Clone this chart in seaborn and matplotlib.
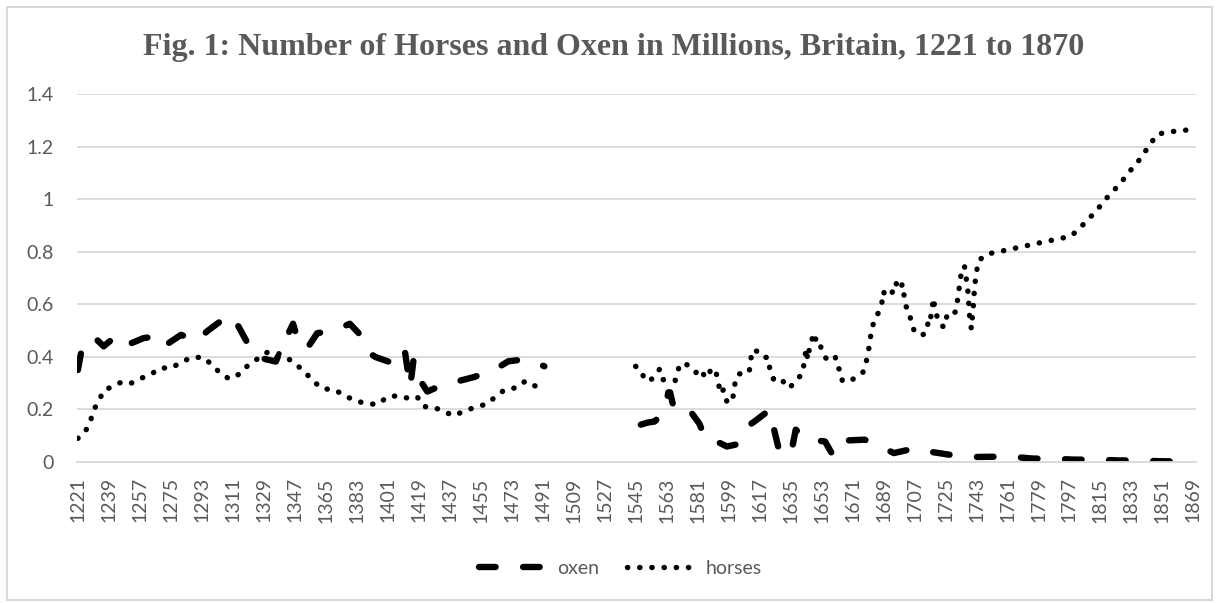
import numpy as np
import pandas as pd
import matplotlib
matplotlib.use("Agg")
import matplotlib.pyplot as plt
from matplotlib.lines import Line2D
from matplotlib.patches import Rectangle
import seaborn as sns

# ---------------- data (millions) ----------------
horses_years_1 = [1221, 1225, 1228, 1230, 1233, 1236, 1241, 1247, 1252, 1258, 1264, 1269, 1275,
                  1281, 1287, 1294, 1299, 1304, 1309, 1315, 1320, 1331, 1337, 1342, 1348, 1353,
                  1358, 1363, 1370, 1376, 1382, 1389, 1395, 1401, 1407, 1412, 1418, 1422, 1428,
                  1434, 1440, 1445, 1452, 1459, 1464, 1469, 1476, 1481, 1487, 1492]
horses_vals_1 = [0.09, 0.113, 0.148, 0.196, 0.23, 0.272, 0.287, 0.306, 0.300, 0.319, 0.336, 0.358, 0.357,
                 0.379, 0.398, 0.398, 0.369, 0.336, 0.316, 0.335, 0.369, 0.417, 0.414, 0.399, 0.370, 0.341,
                 0.306, 0.279, 0.275, 0.253, 0.233, 0.222, 0.219, 0.248, 0.252, 0.244, 0.249, 0.211, 0.208,
                 0.190, 0.176, 0.194, 0.208, 0.222, 0.251, 0.275, 0.283, 0.308, 0.288, 0.302]

horses_years_2 = [1545, 1548, 1550, 1553, 1556, 1559, 1561, 1565, 1568, 1570, 1573, 1576, 1580, 1582,
                  1586, 1589, 1591, 1593, 1594, 1596, 1598, 1601, 1602, 1603, 1605, 1608, 1611, 1612,
                  1613, 1616, 1619, 1622, 1623, 1625, 1630, 1632, 1635, 1638, 1642, 1643, 1644, 1645,
                  1646, 1648, 1649, 1650, 1652, 1653, 1655, 1657, 1661, 1662, 1664, 1665, 1669, 1673,
                  1677, 1679, 1680, 1681, 1682, 1684, 1686, 1688, 1689, 1690, 1694, 1696, 1698, 1700,
                  1701, 1702, 1704, 1705, 1707, 1711, 1714, 1715, 1716, 1717, 1718, 1719, 1721, 1724,
                  1726, 1728, 1731, 1732, 1733, 1734, 1735, 1736, 1737, 1738, 1739, 1740, 1741, 1742,
                  1743, 1744, 1749, 1756, 1763, 1770, 1777, 1784, 1791, 1798, 1803, 1808, 1813, 1817,
                  1822, 1827, 1831, 1836, 1840, 1844, 1848, 1855, 1862, 1869]
horses_vals_2 = [0.364, 0.348, 0.319, 0.306, 0.328, 0.354, 0.313, 0.31, 0.31, 0.357, 0.379, 0.364, 0.34, 0.355,
                 0.319, 0.354, 0.355, 0.31, 0.26, 0.275, 0.23, 0.227, 0.265, 0.313, 0.336, 0.332, 0.345, 0.395,
                 0.427, 0.42, 0.398, 0.398, 0.351, 0.316, 0.318, 0.286, 0.286, 0.31, 0.336, 0.385, 0.43, 0.39,
                 0.435, 0.478, 0.49, 0.45, 0.452, 0.427, 0.399, 0.385, 0.399, 0.36, 0.35, 0.31, 0.305, 0.323,
                 0.341, 0.383, 0.412, 0.456, 0.50, 0.548, 0.567, 0.605, 0.649, 0.63, 0.645, 0.684, 0.655, 0.677,
                 0.63, 0.592, 0.575, 0.528, 0.497, 0.481, 0.493, 0.538, 0.531, 0.579, 0.623, 0.576, 0.535, 0.512,
                 0.56, 0.554, 0.573, 0.617, 0.665, 0.712, 0.725, 0.746, 0.70, 0.649, 0.554, 0.507, 0.582, 0.674,
                 0.721, 0.765, 0.791, 0.80, 0.81, 0.82, 0.83, 0.84, 0.849, 0.86, 0.89, 0.924, 0.958, 0.993,
                 1.028, 1.063, 1.099, 1.135, 1.172, 1.21, 1.247, 1.256, 1.261, 1.265]

oxen_years_1 = [1221, 1223, 1230, 1236, 1244, 1251, 1259, 1263, 1266, 1273, 1281, 1290, 1296, 1305,
                1309, 1313, 1319, 1325, 1336, 1339, 1346, 1349, 1354, 1360, 1370, 1379, 1385, 1389,
                1394, 1404, 1408, 1411, 1413, 1414, 1416, 1419, 1424, 1433, 1441, 1451, 1462, 1471,
                1482, 1492]
oxen_vals_1 = [0.35, 0.42, 0.478, 0.44, 0.484, 0.449, 0.471, 0.475, 0.49, 0.449, 0.484, 0.459, 0.497, 0.541,
               0.56, 0.531, 0.459, 0.399, 0.382, 0.43, 0.526, 0.459, 0.43, 0.49, 0.50, 0.526, 0.484, 0.42,
               0.399, 0.376, 0.37, 0.42, 0.33, 0.285, 0.389, 0.319, 0.268, 0.294, 0.306, 0.323, 0.347, 0.383,
               0.392, 0.364]

oxen_years_2 = [1548, 1552, 1556, 1561, 1563, 1564, 1565, 1567, 1570, 1573, 1576, 1582, 1586, 1594,
                1598, 1603, 1607, 1614, 1623, 1625, 1628, 1635, 1638, 1644, 1655, 1660, 1668, 1678,
                1687, 1695, 1708, 1718, 1730, 1741, 1752, 1765, 1776, 1789, 1800, 1813, 1825, 1838,
                1849, 1862, 1869]
oxen_vals_2 = [0.142, 0.15, 0.154, 0.186, 0.23, 0.265, 0.265, 0.21, 0.2, 0.186, 0.2, 0.146, 0.082, 0.072,
               0.059, 0.066, 0.123, 0.154, 0.199, 0.135, 0.053, 0.024, 0.123, 0.087, 0.078, 0.021, 0.082, 0.085,
               0.059, 0.034, 0.053, 0.037, 0.025, 0.019, 0.02, 0.019, 0.013, 0.012, 0.009, 0.009, 0.006, 0.006,
               0.003, 0.002, 0.002]

x_ticks = list(range(1221, 1870, 18))
y_ticks = [0, 0.2, 0.4, 0.6, 0.8, 1.0, 1.2, 1.4]
y_tick_labels = ["0", "0.2", "0.4", "0.6", "0.8", "1", "1.2", "1.4"]
title = "Fig. 1: Number of Horses and Oxen in Millions, Britain, 1221 to 1870"
series_labels = ["oxen", "horses"]

# ---------------- build tidy frame ----------------
frames = []
for name, seg, yrs, vals in [
    ("oxen", 1, oxen_years_1, oxen_vals_1), ("oxen", 2, oxen_years_2, oxen_vals_2),
    ("horses", 1, horses_years_1, horses_vals_1), ("horses", 2, horses_years_2, horses_vals_2)]:
    frames.append(pd.DataFrame({"year": yrs, "value": vals, "animal": name, "segment": seg}))
df = pd.concat(frames, ignore_index=True)

sns.set_theme(style="white")
plt.rcParams["font.family"] = ["Lato", "DejaVu Sans"]

W, H = 1219, 603
fig = plt.figure(figsize=(W / 100, H / 100), dpi=100)
ax = fig.add_axes([77 / W, (H - 462) / H, 1119 / W, 368 / H])

GREY = "#595959"
FS = 14
OX_LW = 4.6
HO_LW = 3.9
ox_style = dict(color="black", linewidth=OX_LW, linestyle=(0, (2.6, 4.3)), dash_capstyle="round")
ho_style = dict(color="black", linewidth=HO_LW, linestyle=(0, (0.05, 2.2)), dash_capstyle="round")

for (name, seg), sub in df.groupby(["animal", "segment"]):
    style = ox_style if name == "oxen" else ho_style
    sns.lineplot(data=sub, x="year", y="value", ax=ax, estimator=None, sort=True,
                 legend=False, **style)

ax.set_xlim(1220.5, 1870.5)
ax.set_ylim(0, 1.4)
ax.set_xticks(x_ticks)
ax.set_xticklabels([str(v) for v in x_ticks], rotation=90)
ax.set_yticks(y_ticks)
ax.set_yticklabels(y_tick_labels)
ax.set_xlabel("")
ax.set_ylabel("")
ax.tick_params(axis="both", length=0, labelsize=FS, labelcolor=GREY)
ax.tick_params(axis="x", pad=11)
ax.tick_params(axis="y", pad=17)
ax.yaxis.grid(True, color="#d9d9d9", linewidth=1.3)
ax.xaxis.grid(False)
ax.set_axisbelow(True)
for s in ["left", "right", "top"]:
    ax.spines[s].set_visible(False)
ax.spines["bottom"].set_color("#d9d9d9")
ax.spines["bottom"].set_linewidth(1.3)

fig.text(0.503, (H - 55) / H, title, ha="center", va="baseline",
         fontsize=23, fontweight="bold", color=GREY, family=["Liberation Serif", "DejaVu Serif"])

handles = [Line2D([], [], **ox_style), Line2D([], [], **ho_style)]
fig.legend(handles, series_labels, loc="center", bbox_to_anchor=(620 / W, (H - 568) / H),
           ncol=2, frameon=False, fontsize=FS, labelcolor=GREY,
           handlelength=3.4, handletextpad=0.65, columnspacing=1.4)

fig.patches.append(Rectangle((7 / W, 3 / H), (1212 - 7) / W, (598 - 5) / H,
                             transform=fig.transFigure, fill=False, ec="#d9d9d9", lw=1.5))

fig.savefig("out.png", dpi=100)
